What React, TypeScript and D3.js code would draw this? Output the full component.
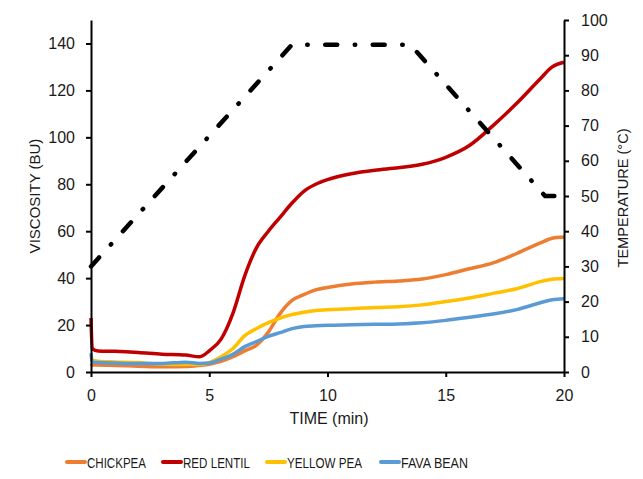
import React, { useEffect, useRef } from 'react';
import * as d3 from 'd3';

// time (min) shared by all viscosity curves
const times = [0, 0.05, 0.3, 1, 2, 3, 4, 4.6, 5, 5.5, 6, 6.5, 7, 7.5, 8, 8.5, 9, 9.5, 10, 11, 12, 13, 14, 15, 16, 17, 18, 19, 19.5, 20];
const chickpea = [3.5, 3, 3, 2.8, 2.5, 2.2, 2.3, 2.8, 3.3, 4.5, 6.5, 9, 11.5, 17, 25, 30.5, 33, 35, 36, 37.5, 38.3, 38.8, 39.6, 41.5, 44, 46.5, 50.5, 55, 57, 57.5];
const redLentil = [23, 10, 9, 8.8, 8.3, 7.6, 7.2, 6.5, 9, 14, 25, 41, 53, 60, 66, 72, 77, 80, 82, 84.5, 86, 87, 88.5, 91.5, 96.5, 105, 114.5, 125, 130, 132];
const yellowPea = [5.5, 5, 4.6, 4.3, 4, 3.3, 3.2, 3.2, 4, 6.5, 10, 15.5, 18.5, 21, 23, 24.5, 25.5, 26.2, 26.5, 27, 27.5, 27.8, 28.6, 30, 31.5, 33.5, 35.5, 38.5, 39.5, 39.8];
const favaBean = [8, 4.2, 4, 3.8, 3.6, 3.6, 4.2, 3.6, 3.8, 5.5, 7.5, 10.8, 13, 15.2, 16.8, 18.5, 19.4, 19.7, 19.9, 20.1, 20.3, 20.5, 21, 22, 23.3, 24.7, 26.6, 29.5, 30.8, 31.2];

// temperature profile
const tempTimes = [0, 8.5, 13.5, 19.2, 20];
const tempValues = [30, 93, 93, 50, 50];

const seriesNames = ['CHICKPEA', 'RED LENTIL', 'YELLOW PEA', 'FAVA BEAN'];
const seriesValues = [chickpea, redLentil, yellowPea, favaBean];
const seriesColors = ['#ED7D31', '#C00000', '#FFC000', '#5B9BD5'];

const xTicks = [0, 5, 10, 15, 20];
const yTicks = [0, 20, 40, 60, 80, 100, 120, 140];
const y2Ticks = [0, 10, 20, 30, 40, 50, 60, 70, 80, 90, 100];

export default function App() {
    const ref = useRef<SVGSVGElement>(null);

    useEffect(() => {
        const width = 643, height = 479;
        const margin = { top: 20, right: 79, bottom: 107, left: 91 };
        const font = '"Liberation Sans", Arial, sans-serif';
        const ink = '#1a1a1a';

        const svg = d3.select(ref.current);
        svg.selectAll('*').remove();

        const x = d3.scaleLinear().domain([0, 20]).range([margin.left, width - margin.right]);
        const y = d3.scaleLinear().domain([0, 150]).range([height - margin.bottom, margin.top]);
        const y2 = d3.scaleLinear().domain([0, 100]).range([height - margin.bottom, margin.top]);

        // frame
        svg.append('rect')
            .attr('x', 5.5).attr('y', 3.5)
            .attr('width', 700).attr('height', 600)
            .attr('fill', 'white').attr('stroke', '#d9d9d9');

        const line = d3.line<[number, number]>()
            .x(d => x(d[0]))
            .y(d => y(d[1]))
            .curve(d3.curveMonotoneX);

        // viscosity curves
        seriesValues.forEach((vals, i) => {
            svg.append('path')
                .datum(times.map((t, j) => [t, vals[j]] as [number, number]))
                .attr('fill', 'none')
                .attr('stroke', seriesColors[i])
                .attr('stroke-width', 3.5)
                .attr('stroke-linejoin', 'round')
                .attr('d', line);
        });

        // temperature
        const tempLine = d3.line<[number, number]>()
            .x(d => x(d[0]))
            .y(d => y2(d[1]));
        svg.append('path')
            .datum(tempTimes.map((t, j) => [t, tempValues[j]] as [number, number]))
            .attr('fill', 'none')
            .attr('stroke', 'black')
            .attr('stroke-width', 4.5)
            .attr('stroke-linecap', 'round')
            .attr('stroke-dasharray', '12 17.5 0.5 17.5')
            .attr('d', tempLine);

        // axes
        const styleAxis = (g: any) => {
            g.select('.domain').attr('stroke', 'black').attr('stroke-width', 2);
            g.selectAll('.tick line').attr('stroke', 'black').attr('stroke-width', 2);
            g.selectAll('.tick text').attr('font-family', font).attr('font-size', 16).attr('fill', ink);
        };

        svg.append('g')
            .attr('transform', `translate(${margin.left},0)`)
            .call(d3.axisLeft(y).tickValues(yTicks).tickSize(5).tickSizeOuter(0).tickPadding(11))
            .call(styleAxis);

        svg.append('g')
            .attr('transform', `translate(${width - margin.right},0)`)
            .call(d3.axisRight(y2).tickValues(y2Ticks).tickSize(5).tickSizeOuter(0).tickPadding(12))
            .call(styleAxis);

        svg.append('g')
            .attr('transform', `translate(0,${height - margin.bottom})`)
            .call(d3.axisBottom(x).tickValues(xTicks).tickSize(5).tickSizeOuter(0).tickPadding(13))
            .call(styleAxis);

        // axis titles
        svg.append('text')
            .attr('transform', `translate(40,${(margin.top + height - margin.bottom) / 2}) rotate(-90)`)
            .attr('text-anchor', 'middle')
            .attr('font-family', font).attr('font-size', 15).attr('fill', ink)
            .text('VISCOSITY (BU)');

        svg.append('text')
            .attr('transform', `translate(628,198) rotate(-90)`)
            .attr('text-anchor', 'middle')
            .attr('font-family', font).attr('font-size', 15).attr('fill', ink)
            .attr('textLength', 139).attr('lengthAdjust', 'spacingAndGlyphs')
            .text('TEMPERATURE (°C)');

        svg.append('text')
            .attr('x', 329)
            .attr('y', 424)
            .attr('text-anchor', 'middle')
            .attr('font-family', font).attr('font-size', 16).attr('fill', ink)
            .text('TIME (min)');

        // legend
        const legendX = [66, 162, 266, 380];
        const legendW = [59, 67, 75, 67];
        seriesNames.forEach((name, i) => {
            const g = svg.append('g').attr('transform', `translate(${legendX[i]},462)`);
            g.append('line')
                .attr('x1', 1).attr('x2', 19)
                .attr('stroke', seriesColors[i]).attr('stroke-width', 4)
                .attr('stroke-linecap', 'round');
            g.append('text')
                .attr('x', 21).attr('y', 6)
                .attr('font-family', font)
                .attr('font-size', 15).attr('fill', ink)
                .attr('textLength', legendW[i]).attr('lengthAdjust', 'spacingAndGlyphs')
                .text(name);
        });
    }, []);

    return (
        <svg ref={ref} width={643} height={479} style={{ display: 'block', margin: '-8px' }} />
    );
}
